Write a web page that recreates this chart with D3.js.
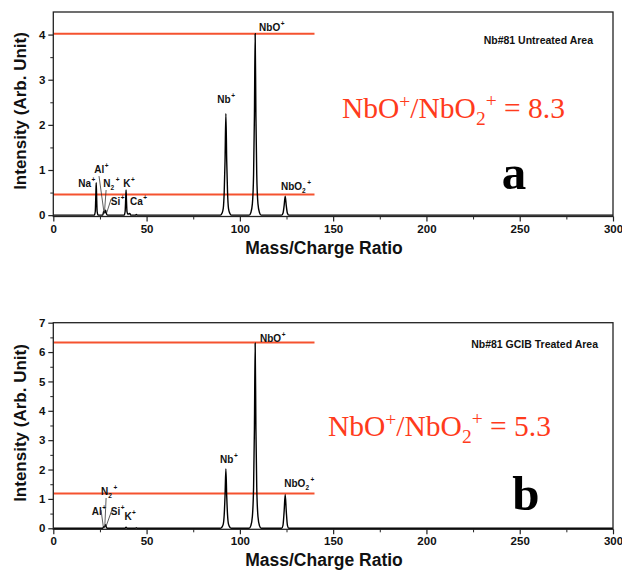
<!DOCTYPE html>
<html><head><meta charset="utf-8">
<script src="https://cdn.jsdelivr.net/npm/d3@7"></script>
<style>body{margin:0;background:#fff}svg{display:block}</style>
</head><body>
<script>
// ---- data ----
const xTicks = [0, 50, 100, 150, 200, 250, 300];
const xMinor = [25, 75, 125, 175, 225, 275];
const yTicksA = [0, 1, 2, 3, 4];
const yTicksB = [0, 1, 2, 3, 4, 5, 6, 7];

// spectrum a (untreated)
const massA = [0, 22.0, 22.5, 22.8, 23.0, 23.2, 23.5, 24.0, 26.5, 27.0, 27.5, 28.0, 28.5, 29.0,
  38.0, 38.5, 38.8, 39.0, 39.2, 39.5, 40.0, 40.5, 41.0, 41.5, 44.0, 44.5, 45.0,
  89.6, 90.4, 91.1, 91.6, 92.05, 92.5, 92.95, 93.4, 93.9, 94.6, 95.4,
  105.0, 105.9, 106.7, 107.35, 107.8, 108.2, 108.6, 109.05, 109.7, 110.5, 111.4,
  122.4, 123.1, 123.7, 124.3, 124.9, 125.5, 126.2, 300];
const intensityA = [0, 0, 0.08, 0.45, 0.72, 0.45, 0.08, 0, 0, 0.08, 0.05, 0.11, 0.03, 0,
  0, 0.08, 0.35, 0.56, 0.35, 0.08, 0.02, 0.03, 0.04, 0, 0, 0.015, 0,
  0, 0.04, 0.15, 0.5, 1.2, 2.25, 1.2, 0.5, 0.15, 0.04, 0,
  0, 0.06, 0.25, 0.9, 2.2, 4.02, 2.2, 0.9, 0.25, 0.06, 0,
  0, 0.04, 0.2, 0.42, 0.2, 0.04, 0, 0];

// spectrum b (GCIB treated)
const massB = [0, 26.5, 27.0, 27.5, 28.0, 28.5, 29.0, 38.5, 39.0, 39.5, 44.0, 44.5, 45.0,
  89.6, 90.4, 91.1, 91.6, 92.05, 92.5, 92.95, 93.4, 93.9, 94.6, 95.4,
  105.0, 105.9, 106.7, 107.35, 107.8, 108.2, 108.6, 109.05, 109.7, 110.5, 111.4,
  122.4, 123.1, 123.7, 124.3, 124.9, 125.5, 126.2, 300];
const intensityB = [0, 0, 0.05, 0.04, 0.12, 0.03, 0, 0, 0.04, 0, 0, 0.02, 0,
  0, 0.04, 0.14, 0.45, 1.1, 2.02, 1.1, 0.45, 0.14, 0.04, 0,
  0, 0.09, 0.4, 1.4, 3.4, 6.3, 3.4, 1.4, 0.4, 0.09, 0,
  0, 0.1, 0.55, 1.15, 0.55, 0.1, 0, 0];

// reference (red) levels: NbO+ and NbO2+
const refA = [4.02, 0.46];
const refB = [6.33, 1.18];
const refEnd = 140;

// peak labels: [base, sub, sup, mass anchor, intensity anchor]
const labelsA = [
  ["Na", "", "+", 13.4, 0.616], ["Al", "", "+", 22.0, 0.926], ["N", "2", "+", 26.8, 0.62],
  ["K", "", "+", 37.5, 0.62], ["Si", "", "+", 30.8, 0.224], ["Ca", "", "+", 41.1, 0.224],
  ["Nb", "", "+", 87.9, 2.48], ["NbO", "", "+", 110.3, 4.08], ["NbO", "2", "+", 122.0, 0.556]
];
const leadersA = [[24.5, 0.866, 27.2, 0.05], [28.3, 0.556, 27.4, 0.05], [31.0, 0.357, 28.6, 0.05]];
const labelsB = [
  ["N", "2", "+", 25.6, 1.134], ["Al", "", "+", 20.6, 0.453], ["Si", "", "+", 30.8, 0.453],
  ["K", "", "+", 38.1, 0.283],
  ["Nb", "", "+", 89.4, 2.23], ["NbO", "", "+", 110.8, 6.35], ["NbO", "2", "+", 123.8, 1.416]
];
const leadersB = [[28.3, 1.03, 27.6, 0.05], [25.6, 0.62, 26.8, 0.05], [31.4, 0.62, 28.2, 0.05]];

const titles = ["Nb#81 Untreated Area", "Nb#81 GCIB Treated Area"];
const ratios = ["8.3", "5.3"];
const panelLetters = ["a", "b"];

// ---- drawing ----
const W = 622, H = 570;
const svg = d3.select("body").append("svg").attr("width", W).attr("height", H);
const SANS = "'Liberation Sans', Arial, sans-serif";
const SERIF = "'Liberation Serif', 'Times New Roman', serif";
const RED_LINE = "#f5522f", RED_TEXT = "#ff3b1c";

function panel(cfg) {
  const g = svg.append("g");
  const x = d3.scaleLinear().domain([0, 300]).range([cfg.x0, cfg.x1]);
  const y = d3.scaleLinear().domain(cfg.yDom).range([cfg.yb, cfg.yt]);

  // red reference lines
  g.selectAll("line.ref").data(cfg.ref).join("line")
    .attr("x1", x(0)).attr("x2", x(refEnd))
    .attr("y1", d => y(d)).attr("y2", d => y(d))
    .attr("stroke", RED_LINE).attr("stroke-width", 2);

  // spectrum
  const pts = cfg.mass.map((m, i) => [m, cfg.inten[i]]);
  g.append("path").datum(pts)
    .attr("d", d3.line().x(d => x(d[0])).y(d => y(d[1])).curve(d3.curveMonotoneX))
    .attr("fill", "none").attr("stroke", "#000").attr("stroke-width", 1.4);

  // frame
  g.append("rect").attr("x", cfg.x0).attr("y", cfg.yt)
    .attr("width", cfg.x1 - cfg.x0).attr("height", cfg.yb - cfg.yt)
    .attr("fill", "none").attr("stroke", "#222").attr("stroke-width", 1.3);

  // x axis
  const xa = g.append("g").attr("transform", `translate(0,${cfg.yb})`)
    .call(d3.axisBottom(x).tickValues(xTicks).tickSize(5).tickPadding(3).tickFormat(d3.format("d")));
  xa.select(".domain").remove();
  xa.selectAll("text").attr("font-family", SANS).attr("font-weight", "bold").attr("font-size", 11.5).attr("fill", "#111");
  xa.selectAll("line").attr("stroke", "#222").attr("stroke-width", 1.2);
  g.append("g").attr("transform", `translate(0,${cfg.yb})`)
    .call(d3.axisBottom(x).tickValues(xMinor).tickSize(3).tickFormat(""))
    .call(s => s.select(".domain").remove())
    .selectAll("line").attr("stroke", "#222");

  // y axis
  const ya = g.append("g").attr("transform", `translate(${cfg.x0},0)`)
    .call(d3.axisLeft(y).tickValues(cfg.yTicks).tickSize(5).tickPadding(3).tickFormat(d3.format("d")));
  ya.select(".domain").remove();
  ya.selectAll("text").attr("font-family", SANS).attr("font-weight", "bold").attr("font-size", 11.5).attr("fill", "#111");
  ya.selectAll("line").attr("stroke", "#222").attr("stroke-width", 1.2);
  const yMinor = cfg.yTicks.slice(0, -1).map(v => v + 0.5);
  g.append("g").attr("transform", `translate(${cfg.x0},0)`)
    .call(d3.axisLeft(y).tickValues(yMinor).tickSize(3).tickFormat(""))
    .call(s => s.select(".domain").remove())
    .selectAll("line").attr("stroke", "#222");

  // axis titles
  g.append("text").attr("x", 324).attr("y", cfg.xTitleY).attr("text-anchor", "middle")
    .attr("font-family", SANS).attr("font-weight", "bold").attr("font-size", 17.5).attr("fill", "#111")
    .text("Mass/Charge Ratio");
  g.append("text").attr("transform", `translate(25.5,${cfg.yTitleC}) rotate(-90)`).attr("text-anchor", "middle")
    .attr("font-family", SANS).attr("font-weight", "bold").attr("font-size", 17).attr("fill", "#111")
    .text("Intensity (Arb. Unit)");

  // peak labels
  cfg.labels.forEach(([base, sub, sup, m, v]) => {
    const t = g.append("text").attr("x", x(m)).attr("y", y(v))
      .attr("font-family", SANS).attr("font-weight", "bold").attr("font-size", 10).attr("fill", "#111");
    t.append("tspan").text(base);
    if (sub) t.append("tspan").attr("dy", 3).attr("font-size", 6.5).text(sub);
    if (sup) t.append("tspan").attr("dy", sub ? -8 : -5).attr("dx", sub ? 1.5 : 0.5).attr("font-size", 6.5).text(sup);
  });
  cfg.leaders.forEach(([m1, v1, m2, v2]) => {
    g.append("line").attr("x1", x(m1)).attr("y1", y(v1)).attr("x2", x(m2)).attr("y2", y(v2))
      .attr("stroke", "#333").attr("stroke-width", 0.8);
  });

  // sample title
  g.append("text").attr("x", cfg.titleX).attr("y", cfg.titleY).attr("text-anchor", "end")
    .attr("font-family", SANS).attr("font-weight", "bold").attr("font-size", 10.5).attr("fill", "#111")
    .text(cfg.title);

  // ratio text
  const r = g.append("text").attr("x", cfg.ratioX).attr("y", cfg.ratioY)
    .attr("font-family", SERIF).attr("font-size", 29.5).attr("fill", RED_TEXT);
  r.append("tspan").text("NbO");
  r.append("tspan").attr("dy", -10).attr("font-size", 19.5).text("+");
  r.append("tspan").attr("dy", 10).text("/NbO");
  r.append("tspan").attr("dy", 7).attr("font-size", 19.5).text("2");
  r.append("tspan").attr("dy", -18).attr("font-size", 19.5).text("+");
  r.append("tspan").attr("dy", 11).text(" = " + cfg.ratio);

  // panel letter
  g.append("text").attr("x", cfg.letterX).attr("y", cfg.letterY).attr("text-anchor", "middle")
    .attr("font-family", SERIF).attr("font-weight", "bold").attr("font-size", 49).attr("fill", "#000")
    .text(cfg.letter);
}

panel({
  x0: 53.3, x1: 613, yt: 12, yb: 216.5, yDom: [-0.03, 4.5], yTicks: yTicksA,
  mass: massA, inten: intensityA, ref: refA, labels: labelsA, leaders: leadersA,
  xTitleY: 254, yTitleC: 111, title: titles[0], titleX: 593, titleY: 44,
  ratio: ratios[0], ratioX: 342, ratioY: 118, letter: panelLetters[0], letterX: 514, letterY: 189
});
panel({
  x0: 53.3, x1: 613, yt: 322.7, yb: 529.3, yDom: [-0.035, 7], yTicks: yTicksB,
  mass: massB, inten: intensityB, ref: refB, labels: labelsB, leaders: leadersB,
  xTitleY: 566, yTitleC: 423, title: titles[1], titleX: 598, titleY: 348,
  ratio: ratios[1], ratioX: 328, ratioY: 436, letter: panelLetters[1], letterX: 526, letterY: 510
});
</script>
</body></html>
